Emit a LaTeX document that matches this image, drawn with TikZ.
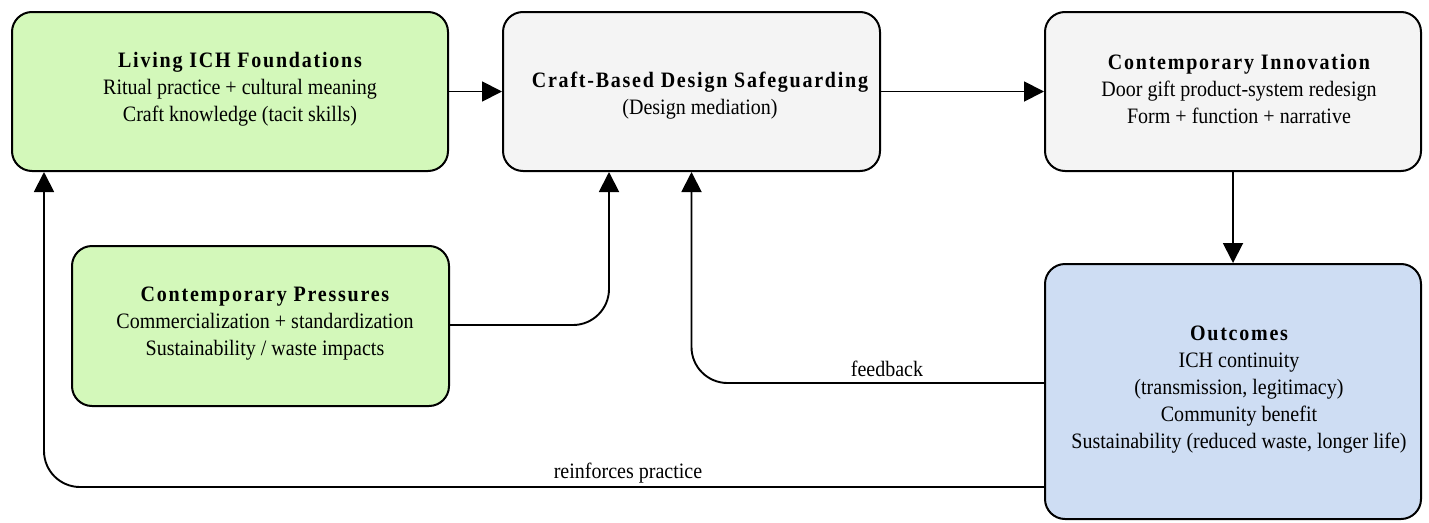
\documentclass[tikz,border=0pt]{standalone}
\usepackage{fontspec}
\setmainfont{Liberation Serif}[FakeStretch=0.91]
\newfontfamily\ttl{Liberation Serif}[LetterSpace=8,FakeStretch=0.91]
\usetikzlibrary{arrows.meta,calc}
\definecolor{greenf}{HTML}{D3F8BA}
\definecolor{grayf}{HTML}{F4F4F4}
\definecolor{bluef}{HTML}{CEDDF3}
\tikzset{
  box/.style={draw=black, line width=2pt, rounded corners=20pt, inner sep=0pt},
  lbl/.style={align=center, font=\fontsize{22}{27}\selectfont, inner sep=0pt},
  arr/.style={line width=1.9pt, -{Triangle[length=20pt,width=20pt]}},
  conn/.style={arr, rounded corners=36pt},
  elbl/.style={font=\fontsize{22}{24}\selectfont, anchor=base, inner sep=0pt}
}
\begin{document}
\begin{tikzpicture}[x=1pt,y=-1pt]
\useasboundingbox (0,0) rectangle (1429,522);
% boxes
\node[box, fill=greenf, minimum width=436pt, minimum height=159pt] (a) at (230,91.5) {};
\node[lbl] (at) at (240,89) {{\ttl\bfseries Living ICH Foundations}\\Ritual practice + cultural meaning\\Craft knowledge (tacit skills)};
\node[box, fill=grayf, minimum width=377pt, minimum height=159pt] (b) at (691.5,91.5) {};
\node[lbl] (bt) at (700,96) {{\ttl\bfseries Craft-Based Design Safeguarding}\\(Design mediation)};
\node[box, fill=grayf, minimum width=376pt, minimum height=159pt] (c) at (1233,91.5) {};
\node[lbl] (ct) at (1239,89) {{\ttl\bfseries Contemporary Innovation}\\Door gift product-system redesign\\Form + function + narrative};
\node[box, fill=greenf, minimum width=377pt, minimum height=160pt] (d) at (260.5,326) {};
\node[lbl] (dt) at (265,324) {{\ttl\bfseries Contemporary Pressures}\\Commercialization + standardization\\Sustainability / waste impacts};
\node[box, fill=bluef, minimum width=376pt, minimum height=255pt] (e) at (1233,391.5) {};
\node[lbl] (et) at (1239,390) {{\ttl\bfseries Outcomes}\\ICH continuity\\(transmission, legitimacy)\\Community benefit\\Sustainability (reduced waste, longer life)};
% connectors
\draw[arr] (a.east) -- (b.west);
\draw[arr] (b.east) -- (c.west);
\draw[arr] (c.south) -- (e.north);
\draw[conn] ([yshift=1pt]d.east) -| ([xshift=-82.5pt]b.south);
\draw[conn] ([yshift=8.5pt]e.west) -| (b.south);
\draw[conn] ([yshift=-95.5pt]e.west) -| ([xshift=-186pt]a.south);
% edge labels
\node[elbl] (fb) at (887,376) {feedback};
\node[elbl] (rp) at (628,478) {reinforces practice};
\end{tikzpicture}
\end{document}
